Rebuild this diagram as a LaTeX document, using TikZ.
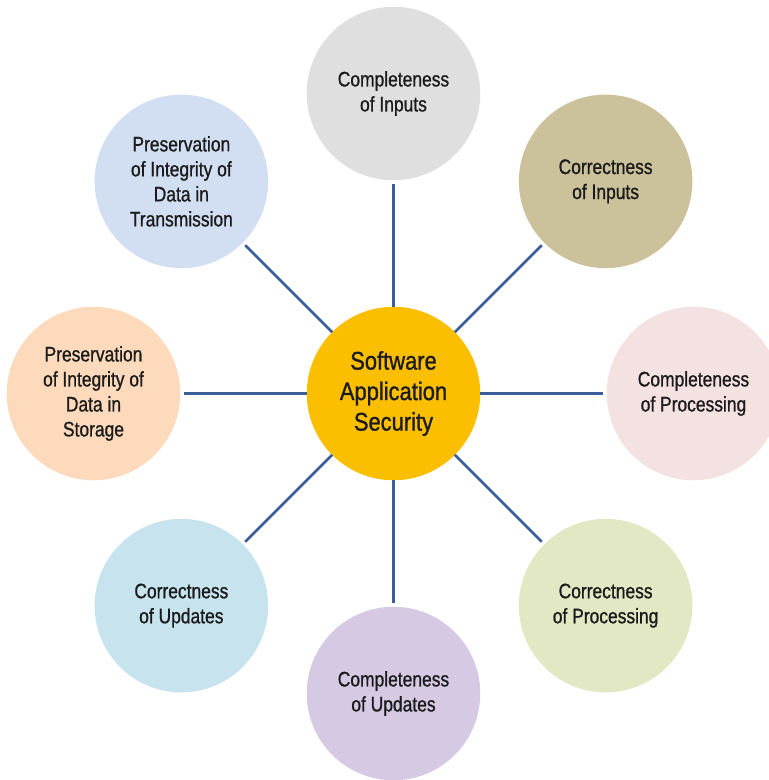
\documentclass[tikz,border=0pt]{standalone}
\usepackage{fontspec}
\usetikzlibrary{calc}
\newfontfamily\lblfont{Liberation Sans}[FakeStretch=0.83,FakeBold=0.9]
\newfontfamily\ctrfont{Liberation Sans}[FakeStretch=0.86,FakeBold=1.0]
\definecolor{linec}{HTML}{3B5E9A}
\definecolor{txtc}{HTML}{1B1B1B}
\definecolor{cctr}{HTML}{FCBF00}
\definecolor{cgray}{HTML}{DFDFDF}
\definecolor{ckhaki}{HTML}{CBC29B}
\definecolor{cpink}{HTML}{F4E1E1}
\definecolor{cgreen}{HTML}{E2E8C3}
\definecolor{clav}{HTML}{D6C9E3}
\definecolor{cblue}{HTML}{C6E3EE}
\definecolor{cpeach}{HTML}{FCDABB}
\definecolor{cperi}{HTML}{D2DEF2}
\tikzset{
  bubble/.style={circle, minimum size=173.5pt, inner sep=0pt, outer sep=0pt,
    align=center, text=txtc, font=\lblfont\fontsize{21}{25}\selectfont},
  hub/.style={circle, minimum size=173.5pt, inner sep=0pt, outer sep=0pt,
    align=center, text=txtc, fill=cctr, font=\ctrfont\fontsize{25.5}{30.5}\selectfont},
  conn/.style={draw=linec, line width=2.5pt, shorten >=3.5pt}
}
\begin{document}
\begin{tikzpicture}[x=1pt,y=1pt]
\useasboundingbox (0,0) rectangle (769,-780);
\clip (0,0) rectangle (769,-780);
\coordinate (O) at (393.5,-393.5);
\node[hub] (hubnode) at (O) {Software\\Application\\Security};
\node[bubble, fill=cgray]  (n1) at ($(O)+(90:300)$)  {Completeness\\of Inputs};
\node[bubble, fill=ckhaki] (n2) at ($(O)+(45:300)$)  {Correctness\\of Inputs};
\node[bubble, fill=cpink]  (n3) at ($(O)+(0:300)$)   {Completeness\\of Processing};
\node[bubble, fill=cgreen] (n4) at ($(O)+(-45:300)$) {Correctness\\of Processing};
\node[bubble, fill=clav]   (n5) at ($(O)+(-90:300)$) {Completeness\\of Updates};
\node[bubble, fill=cblue]  (n6) at ($(O)+(-135:300)$){Correctness\\of Updates};
\node[bubble, fill=cpeach] (n7) at ($(O)+(180:300)$) {Preservation\\of Integrity of\\Data in\\Storage};
\node[bubble, fill=cperi]  (n8) at ($(O)+(135:300)$) {Preservation\\of Integrity of\\Data in\\Transmission};
\foreach \n in {n1,n2,n3,n4,n5,n6,n7,n8}
  \draw[conn] (hubnode) -- (\n);
\end{tikzpicture}
\end{document}
